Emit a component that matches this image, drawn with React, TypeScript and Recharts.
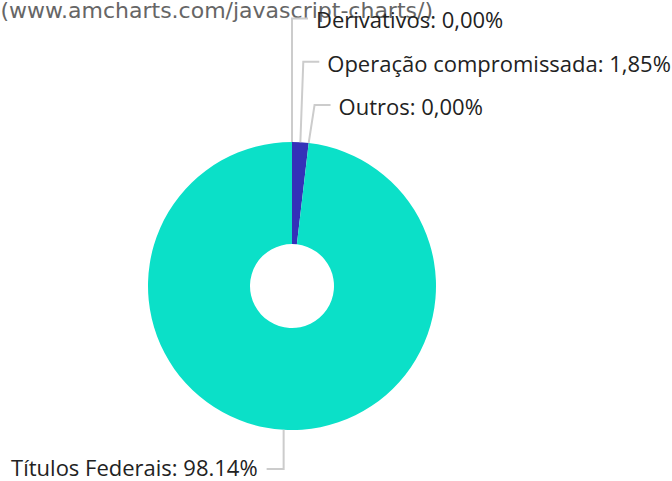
import React from "react";
import { PieChart, Pie, Cell } from "recharts";

const categories = ["Derivativos", "Operação compromissada", "Outros", "Títulos Federais"];
const values = [0, 1.85, 0, 98.14];
const valueLabels = ["0,00%", "1,85%", "0,00%", "98.14%"];
const colors = ["#3a32b6", "#3431b8", "#3a32b6", "#0be0c8"];
const creditText = "(www.amcharts.com/javascript-charts/)";

const data = categories.map((name, i) => ({ name, value: values[i], label: valueLabels[i] }));

const RAD = Math.PI / 180;
const FONT = "'Open Sans', 'Noto Sans', sans-serif";

const renderLabel = (props: any) => {
  const { cx, cy, midAngle, outerRadius, index } = props;
  const ax = cx + outerRadius * Math.cos(-midAngle * RAD);
  const ay = cy + outerRadius * Math.sin(-midAngle * RAD);
  const text = `${categories[index]}: ${valueLabels[index]}`;
  const right = ax >= cx - 1 && ay < cy;
  if (right) {
    const rowY = 18.5 + index * 43.3;
    const bx = ax + (ax - cx) * 0.35;
    const ex = bx + 16;
    return (
      <g key={`lab-${index}`}>
        <polyline
          points={`${ax},${ay} ${bx},${rowY} ${ex},${rowY}`}
          fill="none"
          stroke="#cccccc"
          strokeWidth={2}
        />
        <text
          x={ex + 8}
          y={rowY + 4}
          dominantBaseline="middle"
          textAnchor="start"
          fontFamily={FONT}
          fontSize={22}
          fill="#222222"
        >
          {text}
        </text>
      </g>
    );
  }
  const rowY = cy + outerRadius + 39;
  const bx = ax;
  const ex = bx - 17;
  return (
    <g key={`lab-${index}`}>
      <polyline
        points={`${ax},${ay} ${bx},${rowY} ${ex},${rowY}`}
        fill="none"
        stroke="#cccccc"
        strokeWidth={2}
      />
      <text
        x={ex - 9}
        y={rowY + 1}
        dominantBaseline="middle"
        textAnchor="end"
        fontFamily={FONT}
        fontSize={22}
        fill="#222222"
      >
        {text}
      </text>
    </g>
  );
};

export default function App() {
  return (
    <div style={{ position: "absolute", left: 0, top: 0, width: 672, height: 481, overflow: "hidden", background: "#ffffff" }}>
      <svg width={672} height={40} style={{ position: "absolute", left: 0, top: 0 }}>
        <text
          x={433}
          y={18}
          textAnchor="end"
          fontFamily="'DejaVu Sans', Verdana, sans-serif"
          fontSize={22}
          fill="#666666"
        >
          {creditText}
        </text>
      </svg>
      <div style={{ position: "absolute", left: 0, top: 0 }}>
        <PieChart width={672} height={481} margin={{ top: 0, right: 0, bottom: 0, left: 0 }}>
          <Pie
            data={data}
            dataKey="value"
            nameKey="name"
            cx={292}
            cy={286}
            innerRadius={42}
            outerRadius={144}
            startAngle={90}
            endAngle={-270}
            stroke="none"
            label={renderLabel}
            labelLine={false}
            isAnimationActive={false}
          >
            {data.map((d, i) => (
              <Cell key={d.name} fill={colors[i]} />
            ))}
          </Pie>
        </PieChart>
      </div>
    </div>
  );
}
